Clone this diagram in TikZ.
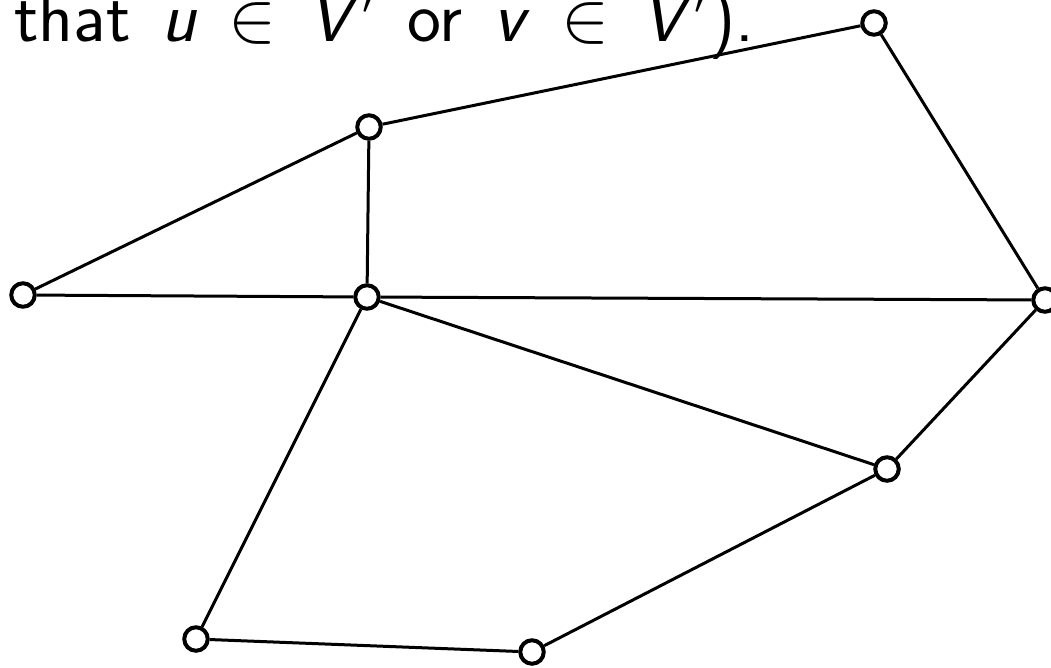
\RequirePackage{fix-cm}
\documentclass[tikz,border=0pt]{standalone}
\usepackage{fontspec}
\begin{document}
\begin{tikzpicture}[x=1pt,y=-1pt,
  vtx/.style={circle,draw=black,fill=white,line width=4pt,minimum size=23.5pt,inner sep=0pt},
  edge/.style={draw=black,line width=3pt}]
\useasboundingbox (0,0) rectangle (1051,667);
\clip (0,0) rectangle (1051,667);
\node[anchor=base west,inner sep=0pt,font=\sffamily\fontsize{72}{80}\selectfont] (txt) at (14,41)
  {\spaceskip=31pt\thickmuskip=7mu that \textit{u} $\in$ \textit{V}$'$ or \textit{v} $\in$ \textit{V}$'$).};
\node[vtx] (A) at (874,23) {};
\node[vtx] (B) at (369,127) {};
\node[vtx] (C) at (23,295) {};
\node[vtx] (D) at (367,297) {};
\node[vtx] (E) at (1045,300) {};
\node[vtx] (F) at (887,469) {};
\node[vtx] (G) at (196,639) {};
\node[vtx] (H) at (532,652) {};
\draw[edge] (B) -- (A);
\draw[edge] (A) -- (E);
\draw[edge] (B) -- (C);
\draw[edge] (B) -- (D);
\draw[edge] (C) -- (D);
\draw[edge] (D) -- (E);
\draw[edge] (D) -- (F);
\draw[edge] (D) -- (G);
\draw[edge] (E) -- (F);
\draw[edge] (F) -- (H);
\draw[edge] (G) -- (H);
\end{tikzpicture}
\end{document}
